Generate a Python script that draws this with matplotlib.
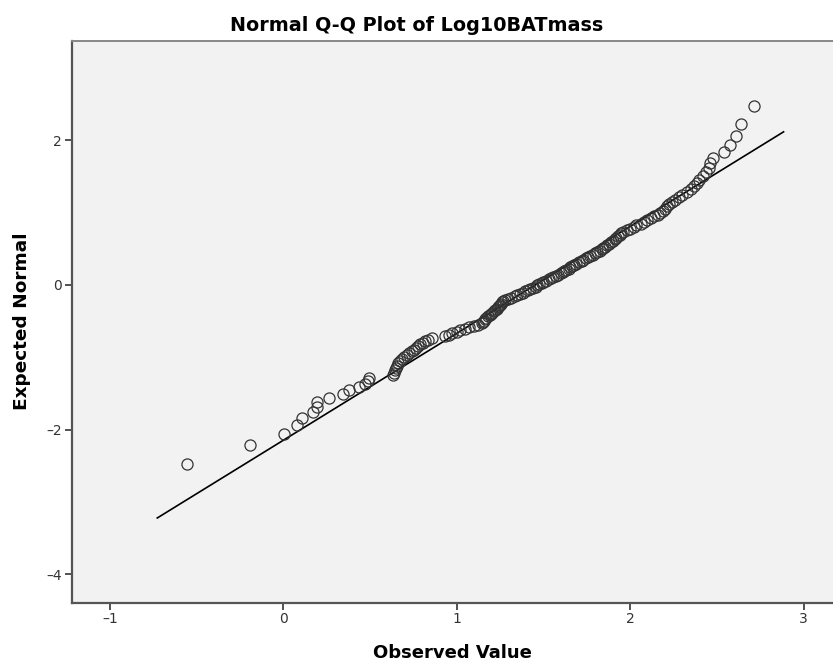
from statistics import NormalDist
import numpy as np
from matplotlib import pyplot as plt

observed = [
    -0.557, -0.190, 0.004, 0.077, 0.110, 0.170, 0.193, 0.196, 0.265, 0.343,
    0.379, 0.437, 0.471, 0.490, 0.496, 0.632, 0.639, 0.645, 0.650, 0.655,
    0.660, 0.675, 0.686, 0.698, 0.712, 0.726, 0.740, 0.753, 0.765, 0.777,
    0.790, 0.803, 0.818, 0.833, 0.855, 0.935, 0.955, 0.975, 1.000, 1.020,
    1.045, 1.070, 1.097, 1.125, 1.145, 1.150, 1.155, 1.162, 1.170, 1.180,
    1.190, 1.198, 1.205, 1.215, 1.220, 1.230, 1.240, 1.245, 1.250, 1.255,
    1.260, 1.265, 1.280, 1.295, 1.315, 1.335, 1.350, 1.365, 1.380, 1.395,
    1.410, 1.425, 1.440, 1.455, 1.465, 1.475, 1.490, 1.500, 1.515, 1.530,
    1.545, 1.555, 1.570, 1.585, 1.600, 1.610, 1.620, 1.630, 1.645, 1.655,
    1.665, 1.675, 1.690, 1.705, 1.720, 1.730, 1.745, 1.755, 1.770, 1.785,
    1.800, 1.810, 1.825, 1.835, 1.845, 1.855, 1.865, 1.880, 1.890, 1.900,
    1.910, 1.920, 1.930, 1.940, 1.950, 1.960, 1.980, 2.000, 2.020, 2.035,
    2.060, 2.080, 2.100, 2.120, 2.140, 2.160, 2.175, 2.190, 2.200, 2.210,
    2.225, 2.240, 2.260, 2.280, 2.300, 2.330, 2.350, 2.370, 2.388, 2.400,
    2.420, 2.438, 2.452, 2.462, 2.476, 2.543, 2.578, 2.610, 2.641, 2.712,
]

# reference line end points
line_x = [-0.727, 2.885]
line_y = [-3.221, 2.115]

xticks = [-1, 0, 1, 2, 3]
yticks = [-4, -2, 0, 2]

# expected normal from ranks (r / (n + 1))
n = len(observed)
expected = [NormalDist().inv_cdf(r / (n + 1)) for r in range(1, n + 1)]

plt.rcParams['font.family'] = ['DejaVu Sans']
plt.rcParams['axes.unicode_minus'] = False

fig = plt.figure(figsize=(8.33, 6.64), dpi=100)
ax = fig.add_axes([0.0864, 0.0923, 0.9136, 0.8467])
ax.set_facecolor('#f2f2f2')

ax.plot(line_x, line_y, color='#000000', lw=1.2, zorder=2)
ax.plot(observed, expected, 'o', mfc='none', mec='#333333', ms=8, mew=0.9, zorder=3)

ax.set_xlim(-1.219, 3.17)
ax.set_ylim(-4.392, 3.377)
ax.set_xticks(xticks)
ax.set_yticks(yticks)
ax.set_xticklabels(['\u20131', '0', '1', '2', '3'])
ax.set_yticklabels(['\u20134', '\u20132', '0', '2'])
ax.tick_params(direction='out', length=5, width=1.2, color='#333333',
               labelsize=10, labelcolor='#333333', pad=2)

for s in ['left', 'bottom']:
    ax.spines[s].set_color('#555555')
    ax.spines[s].set_linewidth(1.6)
ax.spines['top'].set_color('#888888')
ax.spines['top'].set_linewidth(1.4)
ax.spines['right'].set_visible(False)

ax.set_xlabel('Observed Value', fontsize=13, fontweight='bold', labelpad=13)
ax.set_ylabel('Expected Normal', fontsize=13.3, fontweight='bold', labelpad=11)
fig.text(0.5, 0.962, 'Normal Q-Q Plot of Log10BATmass', ha='center', va='center',
         fontsize=13.8, fontweight='bold')

fig.savefig('out.png', dpi=100)
